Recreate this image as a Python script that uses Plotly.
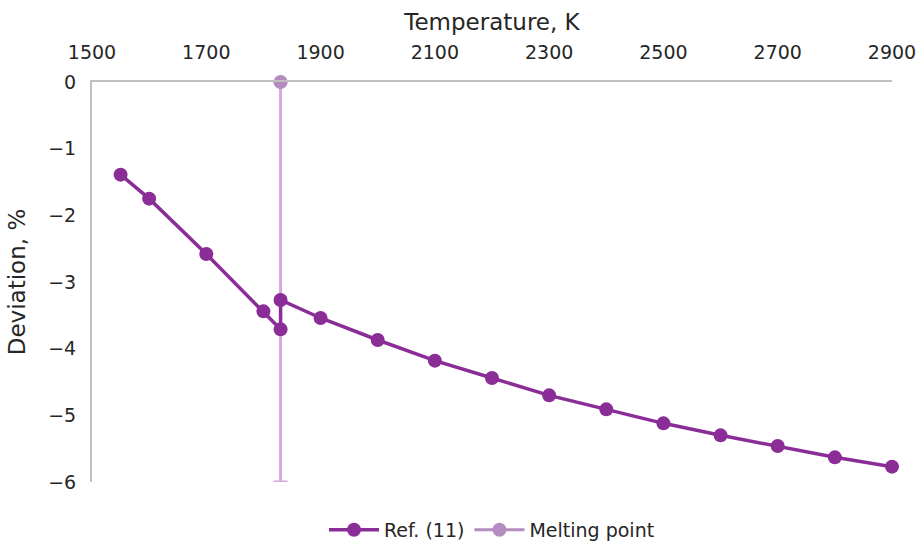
import plotly.graph_objects as go

temps = [1550, 1600, 1700, 1800, 1830, 1830, 1900, 2000, 2100, 2200, 2300, 2400, 2500, 2600, 2700, 2800, 2900]
deviation = [-1.39, -1.75, -2.58, -3.44, -3.71, -3.27, -3.54, -3.87, -4.18, -4.44, -4.70, -4.91, -5.12, -5.30, -5.46, -5.63, -5.77]
melt_t = [1830]
melt_y = [0]
melt_depth = [6]

fig = go.Figure()
fig.add_trace(go.Scatter(
    x=melt_t, y=melt_y, mode="lines+markers", name="Melting point",
    line=dict(color="#B48CC0", width=3),
    marker=dict(color="#B48CC0", size=14),
    error_y=dict(type="data", symmetric=False, array=[0], arrayminus=melt_depth,
                 color="#D6A9DA", thickness=3, width=7),
    cliponaxis=False,
    legendrank=2,
))
fig.add_trace(go.Scatter(
    x=temps, y=deviation, mode="lines+markers", name="Ref. (11)",
    line=dict(color="#8A2D96", width=3.5),
    marker=dict(color="#8A2D96", size=14),
    cliponaxis=False,
    legendrank=1,
))

fig.update_layout(
    width=920, height=543,
    margin=dict(l=92, r=28, t=82, b=61, autoexpand=False),
    paper_bgcolor="white", plot_bgcolor="white",
    font=dict(family="DejaVu Sans", size=19, color="#262626"),
    showlegend=True,
    legend=dict(orientation="h", x=0.5, xanchor="center", yref="container", y=0.024, yanchor="middle",
                font=dict(size=19), itemwidth=50),
    xaxis=dict(side="top", range=[1500, 2900], tickvals=list(range(1500, 2901, 200)),
               showgrid=False, zeroline=False, showline=True, linecolor="#BFBFBF", linewidth=2,
               ticks="", ticklabelstandoff=13, automargin=False,
               title=dict(text="Temperature, K", standoff=4)),
    yaxis=dict(range=[-6, 0], tickvals=[0, -1, -2, -3, -4, -5, -6],
               showgrid=False, zeroline=False, showline=True, linecolor="#BFBFBF", linewidth=2,
               ticks="", ticklabelstandoff=10, automargin=False,
               title=dict(text="Deviation, %", standoff=16)),
)

fig.write_html("out.html")
